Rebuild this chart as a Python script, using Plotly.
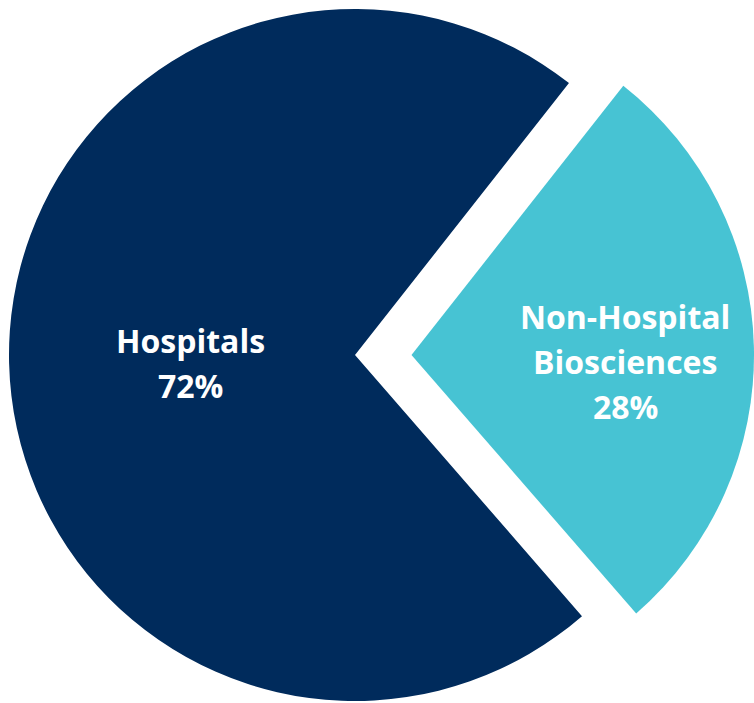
import plotly.graph_objects as go

labels = ["Hospitals", "Non-Hospital Biosciences"]
label_lines = [["Hospitals"], ["Non-Hospital", "Biosciences"]]
values = [72, 28]
colors = ["#002B5C", "#47C3D3"]

W, H = 754, 703

fig = go.Figure()

# main (dark) slice trace; teal slice hidden here
fig.add_trace(go.Pie(
    labels=labels, values=values, sort=False, direction="clockwise", rotation=139,
    marker=dict(colors=[colors[0], "rgba(0,0,0,0)"], line=dict(width=0)),
    textinfo="none", hoverinfo="label+percent", showlegend=False,
    domain=dict(x=[9 / W, 701 / W], y=[2 / H, 694 / H]),
))
# exploded (teal) slice trace; dark slice hidden here
fig.add_trace(go.Pie(
    labels=labels, values=values, sort=False, direction="clockwise", rotation=139,
    marker=dict(colors=["rgba(0,0,0,0)", colors[1]], line=dict(width=0)),
    textinfo="none", hoverinfo="label+percent", showlegend=False,
    domain=dict(x=[69 / W, 1], y=[2 / H, 694 / H]),
))

total = sum(values)
centers = [(191, 363), (625, 361)]
fs = 32
step = 45
for lines, v, (cx, cy) in zip(label_lines, values, centers):
    all_lines = lines + [f"{round(100 * v / total)}%"]
    n = len(all_lines)
    for i, t in enumerate(all_lines):
        py = cy + (i - (n - 1) / 2) * step
        fig.add_annotation(
            x=cx / W, y=1 - py / H, xref="paper", yref="paper",
            text=f"<b>{t}</b>", showarrow=False,
            font=dict(family="Open Sans", size=fs, color="white"),
            xanchor="center", yanchor="middle",
        )

fig.update_layout(
    width=W, height=H, margin=dict(l=0, r=0, t=0, b=0),
    paper_bgcolor="white", plot_bgcolor="white", showlegend=False,
)

fig.write_html(
    "out.html",
    config={"displayModeBar": False},
    post_script="document.body.style.margin='0';document.body.style.overflow='hidden';",
)
